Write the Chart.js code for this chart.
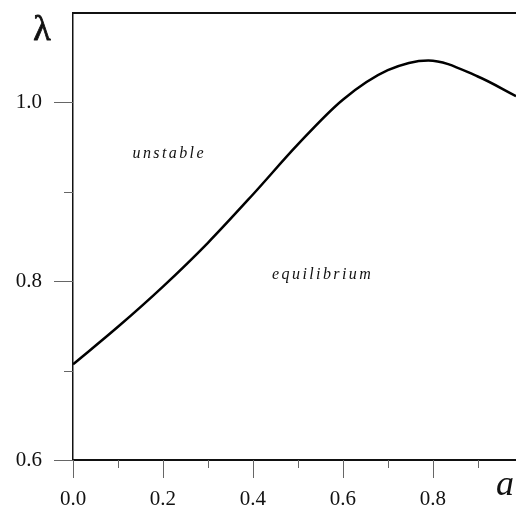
<!DOCTYPE html>
<html>
<head>
<meta charset="utf-8">
<script src="https://cdn.jsdelivr.net/npm/chart.js@4.4.0/dist/chart.umd.min.js"></script>
<style>
  html, body { margin: 0; padding: 0; background: #fff; overflow: hidden; }
  #wrap { width: 516px; height: 511px; }
</style>
</head>
<body>
<div id="wrap"><canvas id="chart"></canvas></div>
<script>
// values
const aValues = [0, 0.1, 0.2, 0.3, 0.4, 0.5, 0.6, 0.7, 0.79, 0.9, 0.985];
const lambdaValues = [0.707, 0.749, 0.794, 0.843, 0.897, 0.953, 1.003, 1.036, 1.047, 1.029, 1.007];
const xTickLabels = ["0.0", "0.2", "0.4", "0.6", "0.8"];
const yTickLabels = ["0.6", "0.8", "1.0"];

const points = aValues.map((a, i) => ({ x: a, y: lambdaValues[i] }));

const isMajor = (v) => Math.round(v * 10) % 2 === 0;

const extras = {
  id: "extras",
  afterDraw(chart) {
    const ctx = chart.ctx;
    const xs = chart.scales.x;
    const ys = chart.scales.y;
    const area = chart.chartArea;
    ctx.save();
    // tick marks
    ctx.strokeStyle = "#666";
    ctx.lineWidth = 1;
    xs.ticks.forEach((t) => {
      const px = Math.round(xs.getPixelForValue(t.value)) + 0.5;
      const len = isMajor(t.value) ? 18 : 8;
      ctx.beginPath();
      ctx.moveTo(px, area.bottom);
      ctx.lineTo(px, area.bottom + len);
      ctx.stroke();
    });
    ys.ticks.forEach((t) => {
      const py = Math.round(ys.getPixelForValue(t.value)) + 0.5;
      if (t.value > 1.05) return;
      const len = isMajor(t.value) ? 19 : 9;
      ctx.beginPath();
      ctx.moveTo(area.left, py);
      ctx.lineTo(area.left - len, py);
      ctx.stroke();
    });
    // top frame line
    ctx.strokeStyle = "#111";
    ctx.lineWidth = 2;
    ctx.beginPath();
    ctx.moveTo(area.left, area.top);
    ctx.lineTo(area.right, area.top);
    ctx.stroke();
    // region labels
    ctx.fillStyle = "#111";
    ctx.font = "italic 16px 'Liberation Serif', serif";
    ctx.textAlign = "center";
    ctx.textBaseline = "middle";
    ctx.letterSpacing = "2.4px";
    ctx.fillText("unstable", xs.getPixelForValue(0.214), ys.getPixelForValue(0.942));
    ctx.fillText("equilibrium", xs.getPixelForValue(0.555), ys.getPixelForValue(0.807));
    ctx.letterSpacing = "0px";
    // axis titles
    ctx.font = "36px 'Liberation Serif', serif";
    ctx.strokeStyle = "#111";
    ctx.lineWidth = 0.8;
    ctx.fillText("λ", 42, 31);
    ctx.strokeText("λ", 42, 31);
    ctx.font = "italic 36px 'Liberation Serif', serif";
    ctx.fillText("a", 505, 486);
    ctx.restore();
  }
};

new Chart(document.getElementById("chart"), {
  type: "line",
  data: {
    datasets: [{
      data: points,
      borderColor: "#000",
      borderWidth: 2.5,
      pointRadius: 0,
      fill: false,
      cubicInterpolationMode: "monotone"
    }]
  },
  options: {
    responsive: true,
    maintainAspectRatio: false,
    animation: false,
    layout: { padding: { top: 13, right: 0, left: 0, bottom: 0 } },
    plugins: { legend: { display: false }, tooltip: { enabled: false } },
    scales: {
      x: {
        type: "linear",
        min: 0,
        max: 0.985,
        afterFit(scale) {
          scale.height = 51;
          scale.paddingLeft = 0;
          scale.paddingRight = 0;
        },
        afterBuildTicks(scale) {
          const t = [];
          for (let i = 0; i <= 9; i++) t.push({ value: i / 10 });
          scale.ticks = t;
        },
        ticks: {
          autoSkip: false,
          maxRotation: 0,
          padding: 9,
          color: "#111",
          font: { family: "'Liberation Serif', serif", size: 21 },
          callback: (v) => isMajor(v) ? xTickLabels[Math.round(v * 5)] : ""
        },
        grid: { drawOnChartArea: false, tickLength: 18, tickColor: "rgba(0,0,0,0)" },
        border: { color: "#111", width: 2 }
      },
      y: {
        type: "linear",
        min: 0.6,
        max: 1.1,
        afterFit(scale) {
          scale.width = 73;
          scale.paddingTop = 0;
          scale.paddingBottom = 0;
        },
        afterBuildTicks(scale) {
          const t = [];
          for (let i = 6; i <= 11; i++) t.push({ value: i / 10 });
          scale.ticks = t;
        },
        ticks: {
          autoSkip: false,
          padding: 12,
          color: "#111",
          font: { family: "'Liberation Serif', serif", size: 21 },
          callback: (v) => {
            const k = Math.round(v * 10);
            return (k % 2 === 0 && k <= 10) ? yTickLabels[(k - 6) / 2] : "";
          }
        },
        grid: { drawOnChartArea: false, tickLength: 19, tickColor: "rgba(0,0,0,0)" },
        border: { color: "#111", width: 1.5 }
      }
    }
  },
  plugins: [extras]
});
</script>
</body>
</html>
